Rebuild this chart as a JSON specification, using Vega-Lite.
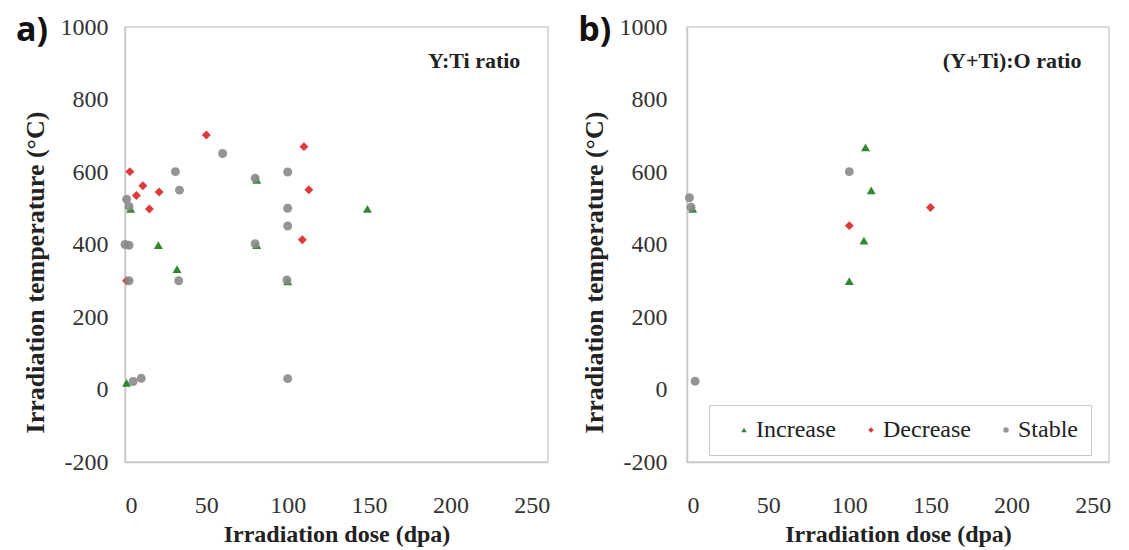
{
  "$schema": "https://vega.github.io/schema/vega-lite/v6.json",
  "background": "white",
  "padding": {"left": 15, "top": 12, "right": 5, "bottom": 2},
  "config": {
    "font": "Times New Roman, Liberation Serif, DejaVu Serif, serif",
    "view": {"stroke": "#d0d0d0", "strokeWidth": 1.5},
    "text": {"font": "Times New Roman, Liberation Serif, DejaVu Serif, serif"},
    "axis": {
      "labelFont": "Times New Roman, Liberation Serif, DejaVu Serif, serif", "titleFont": "Times New Roman, Liberation Serif, serif",
      "labelFontSize": 24, "titleFontSize": 24, "labelColor": "#333333", "titleColor": "#222222",
      "labelFontWeight": "normal", "titleFontWeight": "bold", "ticks": false, "grid": false,
      "domainColor": "#c8c8c8", "domainWidth": 1.5
    },
    "legend": {"labelFont": "Times New Roman, Liberation Serif, DejaVu Serif, serif", "labelFontWeight": "normal"},
    "concat": {"spacing": 26}
  },
  "datasets": {
    "ti": [
      {"dose": 20.5, "temp": 398, "change": "Increase"},
      {"dose": 32, "temp": 332, "change": "Increase"},
      {"dose": 149, "temp": 498, "change": "Increase"},
      {"dose": 1, "temp": 18, "change": "Increase"},
      {"dose": 3.5, "temp": 498, "change": "Increase"},
      {"dose": 81, "temp": 578, "change": "Increase"},
      {"dose": 81, "temp": 398, "change": "Increase"},
      {"dose": 100, "temp": 298, "change": "Increase"},
      {"dose": 3, "temp": 601, "change": "Decrease"},
      {"dose": 50, "temp": 702, "change": "Decrease"},
      {"dose": 11, "temp": 562, "change": "Decrease"},
      {"dose": 7, "temp": 535, "change": "Decrease"},
      {"dose": 21, "temp": 545, "change": "Decrease"},
      {"dose": 15, "temp": 498, "change": "Decrease"},
      {"dose": 110, "temp": 670, "change": "Decrease"},
      {"dose": 113, "temp": 551, "change": "Decrease"},
      {"dose": 109, "temp": 413, "change": "Decrease"},
      {"dose": 1, "temp": 300, "change": "Decrease"},
      {"dose": 60, "temp": 651, "change": "Stable"},
      {"dose": 31, "temp": 601, "change": "Stable"},
      {"dose": 33.5, "temp": 550, "change": "Stable"},
      {"dose": 1, "temp": 525, "change": "Stable"},
      {"dose": 2.5, "temp": 505, "change": "Stable"},
      {"dose": 0, "temp": 400, "change": "Stable"},
      {"dose": 2.5, "temp": 398, "change": "Stable"},
      {"dose": 80, "temp": 583, "change": "Stable"},
      {"dose": 80, "temp": 402, "change": "Stable"},
      {"dose": 100, "temp": 600, "change": "Stable"},
      {"dose": 100, "temp": 500, "change": "Stable"},
      {"dose": 100, "temp": 451, "change": "Stable"},
      {"dose": 99.5, "temp": 302, "change": "Stable"},
      {"dose": 33, "temp": 300, "change": "Stable"},
      {"dose": 2.5, "temp": 300, "change": "Stable"},
      {"dose": 5, "temp": 22, "change": "Stable"},
      {"dose": 10, "temp": 31, "change": "Stable"},
      {"dose": 100, "temp": 30, "change": "Stable"}
    ],
    "o": [
      {"dose": 110, "temp": 668, "change": "Increase"},
      {"dose": 113.5, "temp": 549, "change": "Increase"},
      {"dose": 109, "temp": 411, "change": "Increase"},
      {"dose": 100, "temp": 299, "change": "Increase"},
      {"dose": 3.5, "temp": 498, "change": "Increase"},
      {"dose": 100, "temp": 452, "change": "Decrease"},
      {"dose": 150, "temp": 502, "change": "Decrease"},
      {"dose": 100, "temp": 601, "change": "Stable"},
      {"dose": 1.5, "temp": 529, "change": "Stable"},
      {"dose": 2.5, "temp": 503, "change": "Stable"},
      {"dose": 5, "temp": 23, "change": "Stable"}
    ]
  },
  "resolve": {"legend": {"color": "independent", "shape": "independent"}},
  "hconcat": [
    {
      "width": 423, "height": 435,
      "layer": [
        {
          "data": {"name": "ti"},
          "mark": {"type": "point", "filled": true, "opacity": 0.9, "size": 80},
          "encoding": {
            "x": {"field": "dose", "type": "quantitative", "scale": {"domain": [0, 250]}, "axis": {"values": [0, 50, 100, 150, 200, 250], "labelPadding": 31, "titlePadding": 5, "title": "Irradiation dose (dpa)", "labelExpr": "'' + datum.value"}},
            "y": {"field": "temp", "type": "quantitative", "scale": {"domain": [-200, 1000]}, "axis": {"values": [-200, 0, 200, 400, 600, 800, 1000], "labelPadding": 17, "titlePadding": 12, "titleFontSize": 26, "titleY": 245, "title": "Irradiation temperature (°C)", "labelExpr": "'' + datum.value"}},
            "color": {"field": "change", "type": "nominal", "scale": {"domain": ["Increase", "Decrease", "Stable"], "range": ["#1d7a1d", "#d92626", "#8a8a8a"]}, "legend": null},
            "shape": {"field": "change", "type": "nominal", "scale": {"domain": ["Increase", "Decrease", "Stable"], "range": ["triangle-up", "diamond", "circle"]}, "legend": null}
          }
        },
        {
          "data": {"values": [{"label": "Y:Ti ratio", "dose": 243, "temp": 905}]},
          "mark": {"type": "text", "align": "right", "baseline": "middle", "fontWeight": "bold", "fontSize": 22, "color": "#222222"},
          "encoding": {
            "x": {"field": "dose", "type": "quantitative"},
            "y": {"field": "temp", "type": "quantitative"},
            "text": {"field": "label"}
          }
        },
        {
          "data": {"values": [{"label": "a)", "dose": -67, "temp": 990}]},
          "mark": {"type": "text", "align": "left", "baseline": "middle", "font": "Open Sans", "fontWeight": "bold", "fontSize": 34, "color": "#111111"},
          "encoding": {
            "x": {"field": "dose", "type": "quantitative"},
            "y": {"field": "temp", "type": "quantitative"},
            "text": {"field": "label"}
          }
        }
      ]
    },
    {
      "width": 422, "height": 435,
      "layer": [
        {
          "data": {"name": "o"},
          "mark": {"type": "point", "filled": true, "opacity": 0.9, "size": 80},
          "encoding": {
            "x": {"field": "dose", "type": "quantitative", "scale": {"domain": [0, 250]}, "axis": {"values": [0, 50, 100, 150, 200, 250], "labelPadding": 31, "titlePadding": 5, "title": "Irradiation dose (dpa)", "labelExpr": "'' + datum.value"}},
            "y": {"field": "temp", "type": "quantitative", "scale": {"domain": [-200, 1000]}, "axis": {"values": [-200, 0, 200, 400, 600, 800, 1000], "labelPadding": 20, "titlePadding": 12, "titleFontSize": 26, "titleY": 245, "title": "Irradiation temperature (°C)", "labelExpr": "'' + datum.value"}},
            "color": {"field": "change", "type": "nominal", "scale": {"domain": ["Increase", "Decrease", "Stable"], "range": ["#1d7a1d", "#d92626", "#8a8a8a"]},
              "legend": {"orient": "none", "legendX": 22, "legendY": 378, "direction": "horizontal", "title": null, "strokeColor": "#c8c8c8", "padding": 13, "labelFontSize": 24, "labelColor": "#222222", "symbolSize": 30, "symbolOffset": 10, "labelOffset": 0, "columnPadding": 13, "labelLimit": 300}},
            "shape": {"field": "change", "type": "nominal", "scale": {"domain": ["Increase", "Decrease", "Stable"], "range": ["triangle-up", "diamond", "circle"]},
              "legend": {"orient": "none", "legendX": 22, "legendY": 378, "direction": "horizontal", "title": null, "strokeColor": "#c8c8c8", "padding": 13, "labelFontSize": 24, "labelColor": "#222222", "symbolSize": 30, "symbolOffset": 10, "labelOffset": 0, "columnPadding": 13, "labelLimit": 300}}
          }
        },
        {
          "data": {"values": [{"label": "(Y+Ti):O ratio", "dose": 243, "temp": 905}]},
          "mark": {"type": "text", "align": "right", "baseline": "middle", "fontWeight": "bold", "fontSize": 22, "color": "#222222"},
          "encoding": {
            "x": {"field": "dose", "type": "quantitative"},
            "y": {"field": "temp", "type": "quantitative"},
            "text": {"field": "label"}
          }
        },
        {
          "data": {"values": [{"label": "b)", "dose": -67, "temp": 990}]},
          "mark": {"type": "text", "align": "left", "baseline": "middle", "font": "Open Sans", "fontWeight": "bold", "fontSize": 34, "color": "#111111"},
          "encoding": {
            "x": {"field": "dose", "type": "quantitative"},
            "y": {"field": "temp", "type": "quantitative"},
            "text": {"field": "label"}
          }
        }
      ]
    }
  ]
}
